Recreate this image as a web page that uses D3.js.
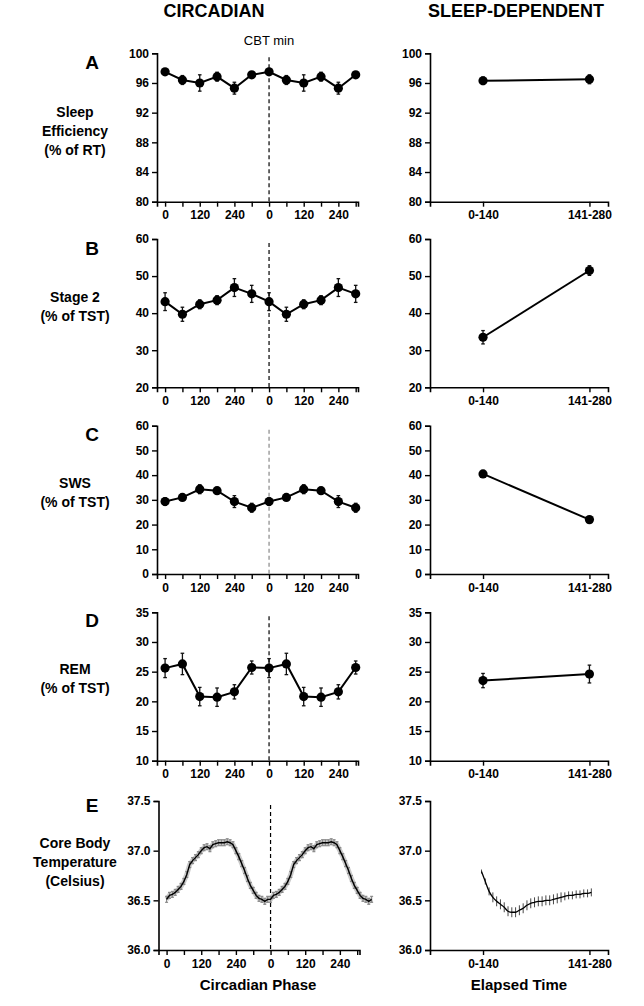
<!DOCTYPE html>
<html><head><meta charset="utf-8">
<script src="https://cdn.jsdelivr.net/npm/d3@7"></script>
<style>
body{margin:0;background:#fff;}
svg{display:block;font-family:"Liberation Sans",Arial,sans-serif;}
</style></head>
<body><svg id="c" width="644" height="1006"></svg>
<script>
// ---------- DATA ----------
const phaseMinutes = [0, 60, 120, 180, 240, 300];
const cycleOffsets = [0, 360];
const sleepEffMean = [97.5, 96.4, 96.0, 96.85, 95.3, 97.1];
const sleepEffErr  = [0.4, 0.6, 1.1, 0.6, 0.8, 0.4];
const stage2Mean   = [43.1, 39.7, 42.4, 43.5, 46.9, 45.2];
const stage2Err    = [2.4, 1.9, 1.2, 1.2, 2.4, 2.3];
const swsMean      = [29.3, 31.0, 34.3, 33.7, 29.3, 26.8];
const swsErr       = [1.5, 1.2, 1.8, 0.8, 2.4, 1.8];
const remMean      = [25.6, 26.3, 20.8, 20.7, 21.6, 25.7];
const remErr       = [1.6, 1.8, 1.55, 1.55, 1.2, 1.1];

const elapsedBins       = ["0-140", "141-280"];
const sleepEffElapsed   = [96.3, 96.5];
const sleepEffElapsedEr = [0.5, 0.6];
const stage2Elapsed     = [33.5, 51.5];
const stage2ElapsedEr   = [1.8, 1.3];
const swsElapsed        = [40.5, 22.0];
const swsElapsedEr      = [1.0, 0.8];
const remElapsed        = [23.5, 24.6];
const remElapsedEr      = [1.2, 1.5];

// core body temperature vs circadian phase (every 10 min, one cycle)
const cbtPhaseMin = [0,10,20,30,40,50,60,70,80,90,100,110,120,130,140,150,160,170,180,190,200,210,220,230,240,250,260,270,280,290,300,310,320,330,340,350];
const cbtPhase    = [36.51,36.55,36.56,36.58,36.61,36.64,36.69,36.76,36.86,36.90,36.93,36.96,37.00,37.03,37.04,37.02,37.06,37.07,37.08,37.08,37.08,37.09,37.08,37.06,37.00,36.94,36.87,36.80,36.72,36.65,36.60,36.55,36.52,36.51,36.49,36.51];
const cbtPhaseErr = [0.03,0.03,0.03,0.03,0.03,0.03,0.03,0.03,0.03,0.03,0.03,0.03,0.03,0.03,0.03,0.03,0.03,0.03,0.03,0.03,0.03,0.03,0.03,0.03,0.03,0.03,0.03,0.03,0.03,0.03,0.03,0.03,0.03,0.03,0.03,0.03];

// core body temperature vs elapsed time
const cbtElapsedMin = [68,73,78,83,88,93,98,103,108,113,118,123,128,133,138,143,148,153,158,163,168,173,178,183,188,193,198,203,208,213];
const cbtElapsed    = [36.79,36.69,36.59,36.53,36.49,36.46,36.43,36.39,36.38,36.38,36.40,36.42,36.45,36.47,36.48,36.49,36.49,36.50,36.50,36.51,36.52,36.53,36.54,36.55,36.55,36.56,36.56,36.57,36.57,36.58];
const cbtElapsedErr = [0.02,0.03,0.04,0.05,0.05,0.05,0.05,0.05,0.05,0.05,0.05,0.05,0.05,0.05,0.05,0.05,0.05,0.05,0.05,0.05,0.05,0.05,0.04,0.04,0.04,0.04,0.04,0.04,0.04,0.04];

const ticksA = [80, 84, 88, 92, 96, 100];
const ticksB = [20, 30, 40, 50, 60];
const ticksC = [0, 10, 20, 30, 40, 50, 60];
const ticksD = [10, 15, 20, 25, 30, 35];
const ticksE = [36.0, 36.5, 37.0, 37.5];
const phaseTicks = [0,60,120,180,240,300,360,420,480,540,600,660];

// ---------- LAYOUT ----------
const svg = d3.select("#c");
const FONT = "'Liberation Sans', Arial, sans-serif";

function dbl(arr){ return cycleOffsets.flatMap(o => arr.map(v => v)); }
function dblX(arr){ return cycleOffsets.flatMap(o => arr.map(v => v + o)); }

const rows = [
  {top:53.3, bottom:201.7, letter:"A", letterDy:16, labelY:131, label:["Sleep","Efficiency","(% of RT)"], ticks:ticksA,
   mean:sleepEffMean, err:sleepEffErr, em:sleepEffElapsed, ee:sleepEffElapsedEr, dash:"#000"},
  {top:239, bottom:387.3, letter:"B", letterDy:16, labelY:306.5, label:["Stage 2","(% of TST)"], ticks:ticksB,
   mean:stage2Mean, err:stage2Err, em:stage2Elapsed, ee:stage2ElapsedEr, dash:"#000"},
  {top:425.7, bottom:574, letter:"C", letterDy:15, labelY:492.5, label:["SWS","(% of TST)"], ticks:ticksC,
   mean:swsMean, err:swsErr, em:swsElapsed, ee:swsElapsedEr, dash:"#888"},
  {top:612.3, bottom:760.7, letter:"D", letterDy:15, labelY:678.5, label:["REM","(% of TST)"], ticks:ticksD,
   mean:remMean, err:remErr, em:remElapsed, ee:remElapsedEr, dash:"#000"},
  {top:801, bottom:950, letter:"E", letterDy:11, labelY:862, label:["Core Body","Temperature","(Celsius)"], ticks:ticksE, temp:true, dash:"#000"}
];

const binCenter = b => { const p = b.split("-").map(Number); return (p[0]+p[1])/2; };

function styleAxis(g){
  g.selectAll("path.domain").attr("stroke","#000").attr("stroke-width",1.6);
  g.selectAll(".tick line").attr("stroke","#000").attr("stroke-width",1.4);
  g.selectAll("text").attr("font-family",FONT).attr("font-weight","bold").attr("font-size",12).attr("fill","#000");
}

function drawErr(g, pts, x, y, color, sw, cap){
  g.selectAll(null).data(pts).enter().append("line")
    .attr("x1",d=>x(d.x)).attr("x2",d=>x(d.x))
    .attr("y1",d=>y(d.m-d.e)).attr("y2",d=>y(d.m+d.e))
    .attr("stroke",color).attr("stroke-width",sw);
  if(cap>0){
    ["+","-"].forEach(s=>{
      g.selectAll(null).data(pts).enter().append("line")
        .attr("x1",d=>x(d.x)-cap).attr("x2",d=>x(d.x)+cap)
        .attr("y1",d=>y(s==="+"?d.m+d.e:d.m-d.e)).attr("y2",d=>y(s==="+"?d.m+d.e:d.m-d.e))
        .attr("stroke",color).attr("stroke-width",sw);
    });
  }
}

rows.forEach((r,i)=>{
  const shift = r.temp ? 1.5 : 0;
  const xL = d3.scaleLinear().domain([-28, 668]).range([157+shift, 358+shift]);
  const xR = d3.scaleLinear().domain([0, 235]).range([430, 608]);
  const dom = [r.ticks[0], r.ticks[r.ticks.length-1]];
  const y = d3.scaleLinear().domain(dom).range([r.bottom, r.top]);
  const fmt = r.temp ? d3.format(".1f") : d3.format("d");

  // ---- left (circadian) ----
  const gL = svg.append("g");
  const ayL = gL.append("g").attr("transform",`translate(${xL.range()[0]},0)`)
     .call(d3.axisLeft(y).tickValues(r.ticks).tickFormat(fmt).tickSizeOuter(0).tickSize(5).tickPadding(3));
  styleAxis(ayL);
  const axL = gL.append("g").attr("transform",`translate(0,${r.bottom})`)
     .call(d3.axisBottom(xL).tickValues(phaseTicks).tickSizeOuter(0).tickSize(5).tickPadding(4)
       .tickFormat(v => (v % 120 === 0) ? String(v % 360) : ""));
  styleAxis(axL);

  // dashed CBT-min line
  gL.append("line").attr("x1",xL(360)).attr("x2",xL(360))
    .attr("y1",r.top+4).attr("y2",r.bottom)
    .attr("stroke",r.dash).attr("stroke-width",1.2).attr("stroke-dasharray","4,3");

  if(!r.temp){
    const xs = dblX(phaseMinutes), ms = dbl(r.mean), es = dbl(r.err);
    const pts = xs.map((x,k)=>({x:x, m:ms[k], e:es[k]}));
    drawErr(gL, pts, xL, y, "#111", 1.3, 1.8);
    gL.append("path").datum(pts).attr("fill","none").attr("stroke","#000").attr("stroke-width",2)
      .attr("d", d3.line().x(d=>xL(d.x)).y(d=>y(d.m)));
    gL.selectAll(null).data(pts).enter().append("circle")
      .attr("cx",d=>xL(d.x)).attr("cy",d=>y(d.m)).attr("r",4.6).attr("fill","#000");
  } else {
    const xs = dblX(cbtPhaseMin), ms = dbl(cbtPhase), es = dbl(cbtPhaseErr);
    const pts = xs.map((x,k)=>({x:x, m:ms[k], e:es[k]}));
    drawErr(gL, pts, xL, y, "#8a8a8a", 1.2, 1.5);
    gL.append("path").datum(pts).attr("fill","none").attr("stroke","#8a8a8a").attr("stroke-width",5).attr("stroke-opacity",0.45)
      .attr("d", d3.line().x(d=>xL(d.x)).y(d=>y(d.m)));
    gL.append("path").datum(pts).attr("fill","none").attr("stroke","#000").attr("stroke-width",1.4)
      .attr("d", d3.line().x(d=>xL(d.x)).y(d=>y(d.m)));
  }

  // ---- right (sleep-dependent) ----
  const gR = svg.append("g");
  const ayR = gR.append("g").attr("transform",`translate(${xR.range()[0]},0)`)
     .call(d3.axisLeft(y).tickValues(r.ticks).tickFormat(fmt).tickSizeOuter(0).tickSize(5).tickPadding(3));
  styleAxis(ayR);
  const binXs = elapsedBins.map(binCenter);
  const axR = gR.append("g").attr("transform",`translate(0,${r.bottom})`)
     .call(d3.axisBottom(xR).tickValues(binXs).tickSizeOuter(0).tickSize(5).tickPadding(4)
       .tickFormat((v,k)=>elapsedBins[k]));
  styleAxis(axR);

  if(!r.temp){
    const pts = binXs.map((x,k)=>({x:x, m:r.em[k], e:r.ee[k]}));
    drawErr(gR, pts, xR, y, "#111", 1.3, 1.8);
    gR.append("path").datum(pts).attr("fill","none").attr("stroke","#000").attr("stroke-width",2)
      .attr("d", d3.line().x(d=>xR(d.x)).y(d=>y(d.m)));
    gR.selectAll(null).data(pts).enter().append("circle")
      .attr("cx",d=>xR(d.x)).attr("cy",d=>y(d.m)).attr("r",4.6).attr("fill","#000");
  } else {
    const pts = cbtElapsedMin.map((x,k)=>({x:x, m:cbtElapsed[k], e:cbtElapsedErr[k]}));
    drawErr(gR, pts, xR, y, "#333", 0.9, 0);
    gR.append("path").datum(pts).attr("fill","none").attr("stroke","#000").attr("stroke-width",1.3)
      .attr("d", d3.line().curve(d3.curveMonotoneX).x(d=>xR(d.x)).y(d=>y(d.m)));
  }

  // ---- row labels ----
  svg.append("text").attr("x",92).attr("y",r.top + r.letterDy).attr("text-anchor","middle")
    .attr("font-family",FONT).attr("font-weight","bold").attr("font-size",19).text(r.letter);
  const n = r.label.length;
  r.label.forEach((t,k)=>{
    svg.append("text").attr("x",75).attr("y", r.labelY + (k-(n-1)/2)*19 + 5).attr("text-anchor","middle")
      .attr("font-family",FONT).attr("font-weight","bold").attr("font-size",14).text(t);
  });
});

// ---- headers & footers ----
svg.append("text").attr("x",214).attr("y",17).attr("text-anchor","middle")
  .attr("font-family",FONT).attr("font-weight","bold").attr("font-size",18).text("CIRCADIAN");
svg.append("text").attr("x",516).attr("y",17).attr("text-anchor","middle")
  .attr("font-family",FONT).attr("font-weight","bold").attr("font-size",18).text("SLEEP-DEPENDENT");
svg.append("text").attr("x",269).attr("y",45).attr("text-anchor","middle")
  .attr("font-family",FONT).attr("font-size",13).text("CBT min");
svg.append("text").attr("x",258).attr("y",990).attr("text-anchor","middle")
  .attr("font-family",FONT).attr("font-weight","bold").attr("font-size",15).text("Circadian Phase");
svg.append("text").attr("x",519).attr("y",990).attr("text-anchor","middle")
  .attr("font-family",FONT).attr("font-weight","bold").attr("font-size",15).text("Elapsed Time");
</script></body></html>
